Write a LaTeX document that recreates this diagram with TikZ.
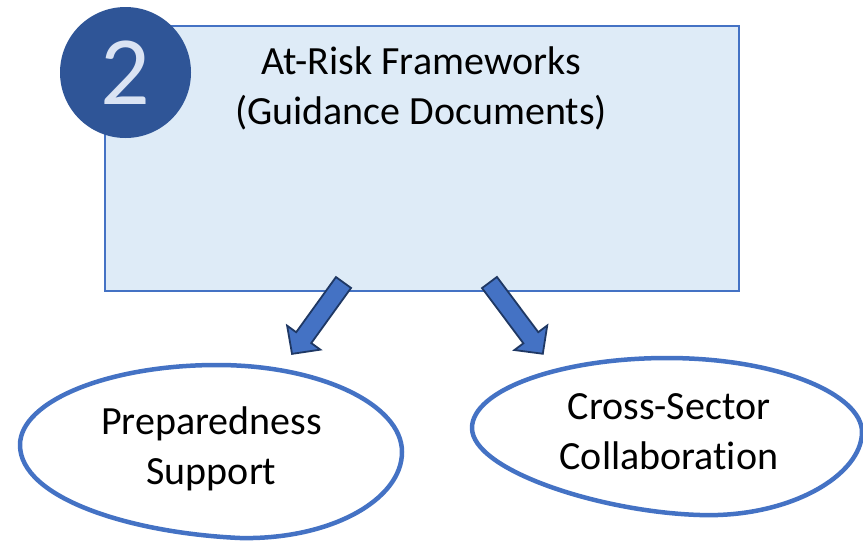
\documentclass[tikz,border=0pt]{standalone}
\usepackage{fontspec}
\setmainfont[Ligatures=CommonOff]{Carlito}
\usetikzlibrary{shapes.geometric}
\definecolor{boxfill}{HTML}{DEEBF7}
\definecolor{boxline}{HTML}{4472C4}
\definecolor{badgeblue}{HTML}{2F5597}
\definecolor{badgetext}{HTML}{DAE3F3}
\definecolor{arrowline}{HTML}{1F3864}
\tikzset{
  frame/.style={draw=boxline, fill=boxfill, line width=1.5pt, inner sep=0pt},
  badge/.style={circle, fill=badgeblue, minimum size=131pt, inner sep=0pt, text=badgetext, font=\fontsize{98}{98}\selectfont},
  bigtext/.style={align=center, inner sep=0pt, font=\fontsize{40}{50}\selectfont},
  blockarrow/.style={fill=boxline, draw=arrowline, line width=1.8pt, line join=miter},
  blob/.style={draw=boxline, line width=4.5pt, fill=white, line join=round}
}
\begin{document}
\begin{tikzpicture}[x=1pt, y=-1pt]
\useasboundingbox (0,0) rectangle (863,542);
\node[frame, minimum width=634pt, minimum height=265pt] (box) at (422,158.5) {};
\node[badge] (num) at (125.5,72.5) {2};
\node[bigtext] (title) at (421,88) {At-Risk Frameworks\\(Guidance Documents)};
% hand drawn outlines
\draw[blob] (20,445) .. controls (20,401) and (109,365) .. (217,365)
  .. controls (319,365) and (402,404) .. (402,452)
  .. controls (402,500) and (330,540) .. (240,538)
  .. controls (130,533) and (20,498) .. cycle;
\draw[blob] (472,428) .. controls (472,390) and (560,358) .. (667,358)
  .. controls (780,358) and (862,395) .. (862,432)
  .. controls (862,475) and (790,518) .. (700,515)
  .. controls (600,512) and (472,470) .. cycle;
\node[bigtext] (prep) at (211.5,449) {Preparedness\\Support};
\node[bigtext] (cross) at (669,432) {Cross-Sector\\Collaboration};
\foreach \x/\y/\ang/\len in {343.5/282.5/234.2/88, 489.5/282.5/306.8/89}
{
  \draw[blockarrow, shift={(\x,\y)}, rotate=\ang] (0,-9.3) -- ({\len-20},-9.3) -- ({\len-20},-20.5) -- (\len,0) -- ({\len-20},20.5) -- ({\len-20},9.3) -- (0,9.3) -- cycle;
}
\end{tikzpicture}
\end{document}
